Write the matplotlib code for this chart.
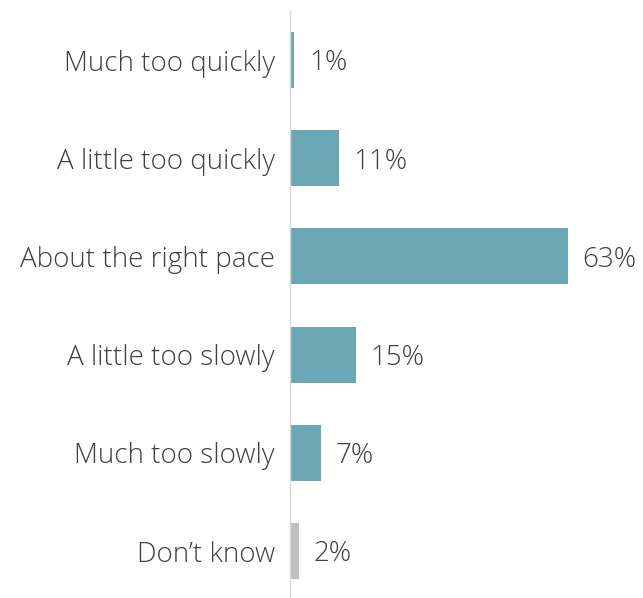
import matplotlib
matplotlib.use("Agg")
import matplotlib.pyplot as plt

categories = [
    "Much too quickly",
    "A little too quickly",
    "About the right pace",
    "A little too slowly",
    "Much too slowly",
    "Don\u2019t know",
]
values = [1, 11, 63, 15, 7, 2]
colors = ["#6aa7b3"] * 5 + ["#bfbfbf"]

plt.rcParams["font.family"] = ["Open Sans", "DejaVu Sans"]

fig = plt.figure(figsize=(6.43, 5.98), dpi=100)
ax = fig.add_axes([290 / 643, 0, 353 / 643, 588 / 598])

pos = list(range(len(categories)))
ax.barh(pos, values, height=0.57, color=colors)

for p, v in zip(pos, values):
    ax.annotate(f"{v}%", (v, p), xytext=(10.5, -2.5), textcoords="offset points",
                ha="left", va="center", fontsize=20, color="#404040",
                fontweight="light")

ax.set_xlim(0, 80)
ax.set_ylim(5 + 47 / 98.2, -50 / 98.2)
ax.set_yticks(pos)
ax.set_yticklabels(categories, fontsize=20, color="#404040", fontweight="light")
ax.tick_params(axis="y", length=0, pad=11)
ax.set_xticks([])

for s in ["top", "right", "bottom"]:
    ax.spines[s].set_visible(False)
ax.spines["left"].set_color("#d9d9d9")
ax.spines["left"].set_linewidth(1)

fig.savefig("out.png", dpi=100)
